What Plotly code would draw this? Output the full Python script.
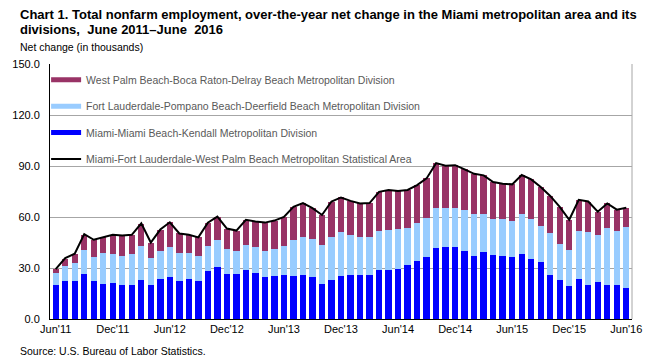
import plotly.graph_objects as go

months = ["Jun'11","Jul'11","Aug'11","Sep'11","Oct'11","Nov'11","Dec'11",
          "Jan'12","Feb'12","Mar'12","Apr'12","May'12","Jun'12","Jul'12","Aug'12","Sep'12","Oct'12","Nov'12","Dec'12",
          "Jan'13","Feb'13","Mar'13","Apr'13","May'13","Jun'13","Jul'13","Aug'13","Sep'13","Oct'13","Nov'13","Dec'13",
          "Jan'14","Feb'14","Mar'14","Apr'14","May'14","Jun'14","Jul'14","Aug'14","Sep'14","Oct'14","Nov'14","Dec'14",
          "Jan'15","Feb'15","Mar'15","Apr'15","May'15","Jun'15","Jul'15","Aug'15","Sep'15","Oct'15","Nov'15","Dec'15",
          "Jan'16","Feb'16","Mar'16","Apr'16","May'16","Jun'16"]

miami = [20.0,22.3,22.3,26.4,22.3,20.6,21.2,20.0,20.0,22.9,20.0,23.5,24.7,22.3,23.5,22.3,28.2,30.5,26.4,
         26.4,28.7,27.0,24.7,25.2,25.8,25.2,25.8,24.7,20.6,22.9,25.2,25.8,25.8,25.8,28.7,28.7,29.3,31.7,34.0,36.3,
         41.6,42.1,42.1,39.8,36.9,39.2,37.5,36.9,36.3,38.1,35.1,33.4,25.8,22.9,19.4,23.5,20.0,21.7,20.0,20.0,18.3]
fort_lauderdale = [6.8,8.8,10.5,14.0,14.0,18.0,16.9,16.9,18.1,19.8,15.7,16.3,17.4,16.3,15.1,14.6,14.5,15.7,14.6,
                   13.4,14.6,15.1,15.1,15.8,16.9,21.0,22.7,22.1,22.7,25.1,25.7,23.9,22.7,22.2,23.3,23.9,23.9,22.1,22.7,23.3,
                   23.8,23.3,23.3,24.5,25.0,22.7,21.5,22.1,21.6,23.8,23.9,21.6,24.5,21.0,21.0,28.5,30.9,28.0,33.8,31.5,36.1]
west_palm = [2.5,4.4,5.6,9.1,10.3,9.6,11.4,12.2,11.4,13.4,9.3,12.8,14.8,11.7,10.9,11.1,14.0,14.0,12.2,
             12.2,15.1,15.2,16.9,16.9,17.3,19.8,19.7,18.4,17.9,21.1,20.6,19.8,19.5,20.2,22.8,23.3,22.1,22.1,22.1,23.1,
             26.3,24.8,25.1,23.7,23.5,22.6,21.6,20.6,21.3,22.8,23.1,22.7,22.1,22.1,18.0,18.1,18.2,13.4,14.2,12.8,11.0]
msa_total = [29.3,35.8,38.4,49.9,46.6,48.2,49.6,49.1,49.5,56.3,45.0,52.6,56.9,50.3,49.5,48.0,56.7,60.2,53.2,
             52.0,58.4,57.3,56.7,57.9,60.0,66.0,68.2,65.2,61.2,69.1,71.5,69.5,68.0,68.2,74.8,75.9,75.3,75.9,78.8,82.7,
             91.7,90.2,90.5,88.0,85.4,84.5,80.6,79.6,79.2,84.7,82.1,77.7,72.4,66.0,58.4,70.1,69.1,63.1,68.0,64.3,65.4]

y_ticks = [0, 30, 60, 90, 120, 150]

names = {
    "wpb": "West Palm Beach-Boca Raton-Delray Beach Metropolitan Division",
    "ftl": "Fort Lauderdale-Pompano Beach-Deerfield Beach Metropolitan Division",
    "mia": "Miami-Miami Beach-Kendall Metropolitan Division",
    "msa": "Miami-Fort Lauderdale-West Palm Beach Metropolitan Statistical Area",
}
colors = {"wpb": "#993366", "ftl": "#99CCFF", "mia": "#0000FF", "msa": "#000000"}

FONT = "Liberation Sans, Arial, sans-serif"
x = list(range(len(months)))

fig = go.Figure()
for key, vals in [("mia", miami), ("ftl", fort_lauderdale), ("wpb", west_palm)]:
    fig.add_trace(go.Bar(x=x, y=vals, name=names[key], marker=dict(color=colors[key], line=dict(width=0)),
                         showlegend=False, hoverinfo="y"))
fig.add_trace(go.Scatter(x=x, y=msa_total, mode="lines", name=names["msa"],
                         line=dict(color="black", width=2), showlegend=False))

# legend entries drawn as thick line samples
for rank, key in enumerate(["wpb", "ftl", "mia", "msa"]):
    fig.add_trace(go.Scatter(x=[None], y=[None], mode="lines", name=names[key],
                             line=dict(color=colors[key], width=2 if key == "msa" else 5),
                             legendgroup=key, legendrank=rank + 1, showlegend=True))

tickvals = [i for i in x if i % 6 == 0]
fig.update_layout(
    width=654, height=361,
    margin=dict(l=38, r=20, t=64, b=42),
    barmode="stack", bargap=0.33,
    plot_bgcolor="white", paper_bgcolor="white",
    font=dict(family=FONT, size=11, color="black"),
    xaxis=dict(range=[-0.6, 60.6], tickvals=tickvals, ticktext=[months[i] for i in tickvals],
               showgrid=False, showline=True, linecolor="black", linewidth=1, ticks="",
               tickfont=dict(size=11, color="black"), zeroline=False),
    yaxis=dict(range=[0, 150], tickvals=y_ticks, tickformat=".1f", showgrid=True,
               gridcolor="#A6A6A6", gridwidth=1, showline=True, linecolor="black", linewidth=1,
               ticks="", ticklabelstandoff=7, tickfont=dict(size=11, color="black"), zeroline=False),
    legend=dict(x=-0.0067, y=0.995, xanchor="left", yanchor="top", bgcolor="rgba(0,0,0,0)",
                traceorder="grouped", tracegroupgap=7.4, itemwidth=30,
                font=dict(size=10.5, color="#595959")),
    showlegend=True,
    annotations=[
        dict(text="<b>Chart 1. Total nonfarm employment, over-the-year net change in the Miami metropolitan area and its</b>",
             xref="paper", yref="paper", x=-0.0554, y=1.193, xanchor="left", yanchor="middle",
             align="left", showarrow=False, font=dict(size=13, color="black", family=FONT)),
        dict(text="<b>divisions,\u00a0 June 2011–June\u00a0 2016</b>",
             xref="paper", yref="paper", x=-0.0554, y=1.136, xanchor="left", yanchor="middle",
             align="left", showarrow=False, font=dict(size=13, color="black", family=FONT)),
        dict(text="Net change (in thousands)", xref="paper", yref="paper", x=-0.0554, y=1.067,
             xanchor="left", yanchor="middle", showarrow=False, font=dict(size=10.5, color="black")),
        dict(text="Source: U.S. Bureau of Labor Statistics.", xref="paper", yref="paper", x=-0.0554, y=-0.125,
             xanchor="left", yanchor="middle", showarrow=False, font=dict(size=10.5, color="black")),
    ],
    shapes=[dict(type="line", xref="paper", yref="paper", x0=1, x1=1, y0=0, y1=1,
                 line=dict(color="#A6A6A6", width=1))],
)
fig.write_html("out.html", config={"displayModeBar": False},
               post_script="document.body.style.margin='0';")
